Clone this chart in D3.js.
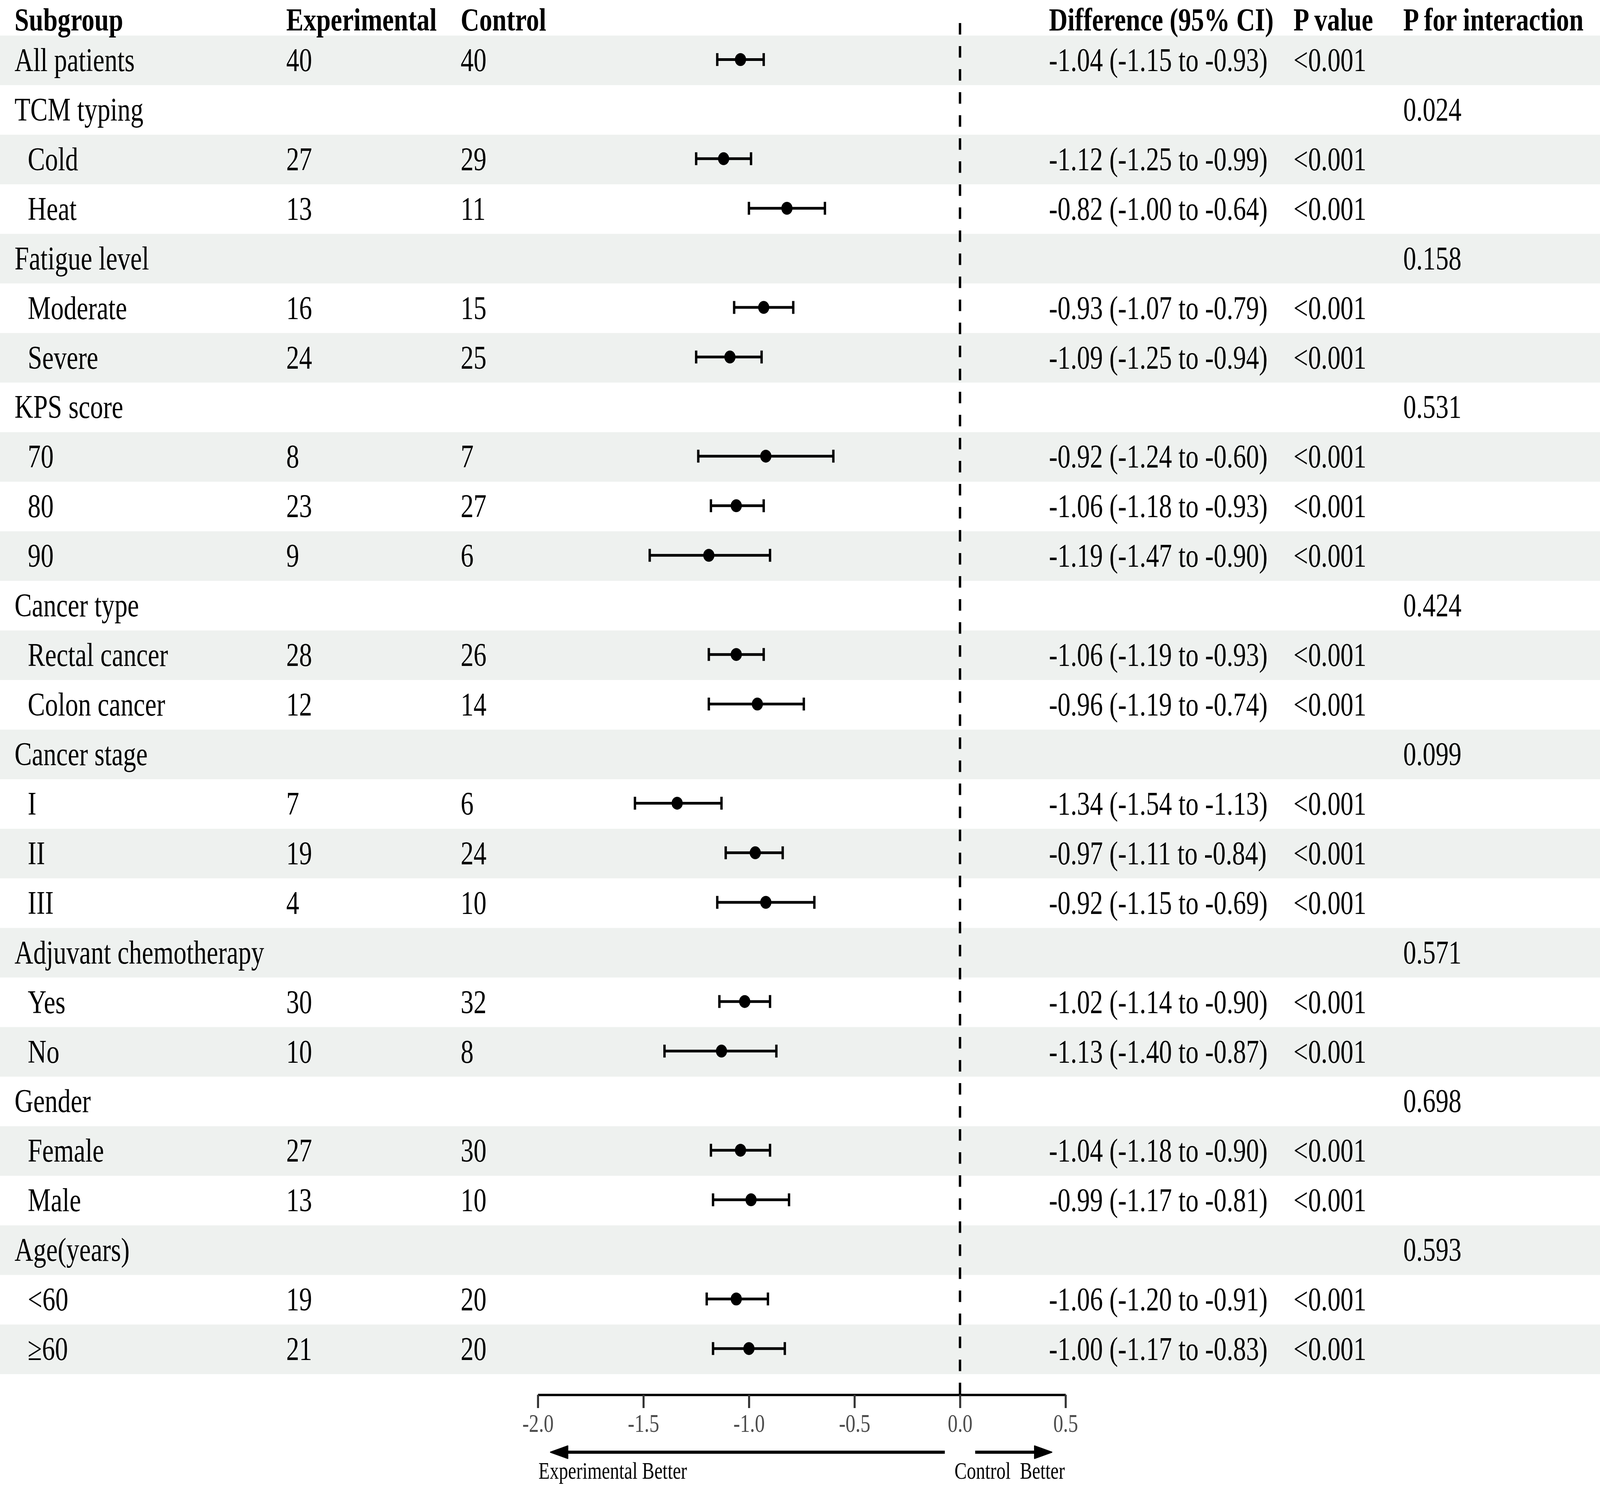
<!DOCTYPE html>
<html>
<head>
<meta charset="utf-8">
<script src="https://cdn.jsdelivr.net/npm/d3@7"></script>
<style>
  html, body { margin: 0; padding: 0; background: #ffffff; overflow: hidden; width: 100vw; height: 100vh; }
  svg { display: block; width: 100vw; height: 100vh; }
</style>
</head>
<body>
<script>
// ---------------- DATA ----------------
const headers = ["Subgroup", "Experimental", "Control", "Difference (95% CI)", "P value", "P for interaction"];

const subgroups = ["All patients", "TCM typing", "Cold", "Heat", "Fatigue level", "Moderate", "Severe",
  "KPS score", "70", "80", "90", "Cancer type", "Rectal cancer", "Colon cancer",
  "Cancer stage", "I", "II", "III", "Adjuvant chemotherapy", "Yes", "No",
  "Gender", "Female", "Male", "Age(years)", "<60", "\u226560"];

const isSubItem = [false, false, true, true, false, true, true,
  false, true, true, true, false, true, true,
  false, true, true, true, false, true, true,
  false, true, true, false, true, true];

const expN  = [40, null, 27, 13, null, 16, 24, null, 8, 23, 9, null, 28, 12, null, 7, 19, 4, null, 30, 10, null, 27, 13, null, 19, 21];
const ctrlN = [40, null, 29, 11, null, 15, 25, null, 7, 27, 6, null, 26, 14, null, 6, 24, 10, null, 32, 8, null, 30, 10, null, 20, 20];

const estimate = [-1.04, null, -1.12, -0.82, null, -0.93, -1.09, null, -0.92, -1.06, -1.19, null, -1.06, -0.96,
  null, -1.34, -0.97, -0.92, null, -1.02, -1.13, null, -1.04, -0.99, null, -1.06, -1.00];
const lower = [-1.15, null, -1.25, -1.00, null, -1.07, -1.25, null, -1.24, -1.18, -1.47, null, -1.19, -1.19,
  null, -1.54, -1.11, -1.15, null, -1.14, -1.40, null, -1.18, -1.17, null, -1.20, -1.17];
const upper = [-0.93, null, -0.99, -0.64, null, -0.79, -0.94, null, -0.60, -0.93, -0.90, null, -0.93, -0.74,
  null, -1.13, -0.84, -0.69, null, -0.90, -0.87, null, -0.90, -0.81, null, -0.91, -0.83];

const pValue = ["<0.001", null, "<0.001", "<0.001", null, "<0.001", "<0.001", null, "<0.001", "<0.001", "<0.001", null, "<0.001", "<0.001",
  null, "<0.001", "<0.001", "<0.001", null, "<0.001", "<0.001", null, "<0.001", "<0.001", null, "<0.001", "<0.001"];
const pInteraction = [null, "0.024", null, null, "0.158", null, null, "0.531", null, null, null, "0.424", null, null,
  "0.099", null, null, null, "0.571", null, null, "0.698", null, null, "0.593", null, null];

const xDomain = [-2, 0.5];
const xTicks = [-2.0, -1.5, -1.0, -0.5, 0.0, 0.5];
const refValue = 0;
const leftArrow = [-0.072, -1.94];
const rightArrow = [0.072, 0.435];
const favourLabels = ["Experimental Better", "Control\u00a0 Better"];
const favourLabelAt = [-1.997, -0.026];

// ---------------- LAYOUT ----------------
const W = 4724, H = 3802;
const FONT = "'Liberation Serif', 'Times New Roman', Times, serif";
const SX = 0.9;           // horizontal condensation of glyphs
const FS = 85;            // main font size
const nRows = subgroups.length;
const rowTop = 91, rowH = 126.93;
const colX = { sub: 43, subIndent: 82, exp: 845, ctrl: 1360, diff: 3097, p: 3819, pint: 4143 };
const headerBaseline = 78;
const axisY = 3571;

const svg = d3.select("body").append("svg")
  .attr("viewBox", `0 0 ${W} ${H}`)
  .attr("preserveAspectRatio", "none");

const x = d3.scaleLinear().domain(xDomain).range([1588, 3146]);
const y = d3.scaleBand().domain(d3.range(nRows)).range([rowTop, rowTop + nRows * rowH]).padding(0);
const yc = i => y(i) + y.bandwidth() / 2;

// background bands
svg.append("g").selectAll("rect")
  .data(d3.range(nRows).filter(i => i % 2 === 0))
  .join("rect")
  .attr("x", 0).attr("width", W)
  .attr("y", i => y(i)).attr("height", y.bandwidth())
  .attr("fill", "#eef1ef");

// reference line
svg.append("line")
  .attr("x1", x(refValue)).attr("x2", x(refValue))
  .attr("y1", 59).attr("y2", axisY)
  .attr("stroke", "#000").attr("stroke-width", 7)
  .attr("stroke-dasharray", "29.5 29.5");

// CI bars
const ciRows = d3.range(nRows).filter(i => estimate[i] !== null);
const ci = svg.append("g").attr("stroke", "#000").attr("stroke-width", 7).attr("fill", "none");
const capH = 16.5;
ciRows.forEach(i => {
  const cy = yc(i) - 2;
  ci.append("line").attr("x1", x(lower[i])).attr("x2", x(upper[i])).attr("y1", cy).attr("y2", cy);
  ci.append("line").attr("x1", x(lower[i])).attr("x2", x(lower[i])).attr("y1", cy - capH).attr("y2", cy + capH);
  ci.append("line").attr("x1", x(upper[i])).attr("x2", x(upper[i])).attr("y1", cy - capH).attr("y2", cy + capH);
});
svg.append("g").selectAll("circle")
  .data(ciRows).join("circle")
  .attr("cx", i => x(estimate[i])).attr("cy", i => yc(i) - 2)
  .attr("r", 16.5).attr("fill", "#000");

// text helper
function txt(g, s, tx, ty, opts = {}) {
  const fs = opts.size || FS;
  const sx = opts.sx || SX;
  return g.append("text")
    .attr("transform", `translate(${tx},${ty}) scale(${sx},1)`)
    .attr("font-family", FONT)
    .attr("font-size", fs)
    .attr("font-weight", opts.bold ? "bold" : "normal")
    .attr("text-anchor", opts.anchor || "start")
    .attr("fill", opts.fill || "#000")
    .style("white-space", "pre")
    .text(s);
}

const tg = svg.append("g");
// headers
const headerX = [colX.sub, colX.exp, colX.ctrl, colX.diff, colX.p, colX.pint];
headers.forEach((h, k) => txt(tg, h, headerX[k], headerBaseline, { bold: true, size: 82, sx: 0.93 }));

// rows
const fmt = v => v.toFixed(2);
d3.range(nRows).forEach(i => {
  const base = yc(i) + 27.5;
  txt(tg, subgroups[i], isSubItem[i] ? colX.subIndent : colX.sub, base);
  if (expN[i] !== null) txt(tg, String(expN[i]), colX.exp, base);
  if (ctrlN[i] !== null) txt(tg, String(ctrlN[i]), colX.ctrl, base);
  if (estimate[i] !== null) txt(tg, `${fmt(estimate[i])} (${fmt(lower[i])} to ${fmt(upper[i])})`, colX.diff, base);
  if (pValue[i] !== null) txt(tg, pValue[i], colX.p, base);
  if (pInteraction[i] !== null) txt(tg, pInteraction[i], colX.pint, base);
});

// axis
const axis = d3.axisBottom(x).tickValues(xTicks).tickFormat(d3.format(".1f")).tickSize(34).tickSizeOuter(0);
const ag = svg.append("g").attr("transform", `translate(0,${axisY})`).call(axis);
ag.select(".domain").attr("stroke", "#000").attr("stroke-width", 6);
ag.selectAll(".tick line").attr("stroke", "#333333").attr("stroke-width", 6);
ag.selectAll(".tick text")
  .text(d => d.toFixed(1))
  .attr("y", 95).attr("dy", 0)
  .attr("transform", `scale(${SX},1)`)
  .attr("font-family", FONT).attr("font-size", 65)
  .attr("fill", "#4d4d4d");

// arrows
const arrowY = 3718, headLen = 51, headHalf = 16;
const ar = svg.append("g");
[leftArrow, rightArrow].forEach(a => {
  const x0 = x(a[0]), x1 = x(a[1]);
  const dir = Math.sign(x1 - x0);
  ar.append("line")
    .attr("x1", x0).attr("x2", x1 - dir * headLen * 0.8)
    .attr("y1", arrowY).attr("y2", arrowY)
    .attr("stroke", "#000").attr("stroke-width", 8);
  const bx = x1 - dir * headLen;
  ar.append("path")
    .attr("d", `M${x1},${arrowY} Q${bx + dir * 20},${arrowY - headHalf * 0.6} ${bx},${arrowY - headHalf} L${bx},${arrowY + headHalf} Q${bx + dir * 20},${arrowY + headHalf * 0.6} ${x1},${arrowY} Z`)
    .attr("fill", "#000").attr("stroke", "#000").attr("stroke-width", 3).attr("stroke-linejoin", "round");
});
favourLabels.forEach((s, k) => txt(svg, s, x(favourLabelAt[k]), 3786, { size: 61, sx: 0.89 }));
</script>
</body>
</html>
